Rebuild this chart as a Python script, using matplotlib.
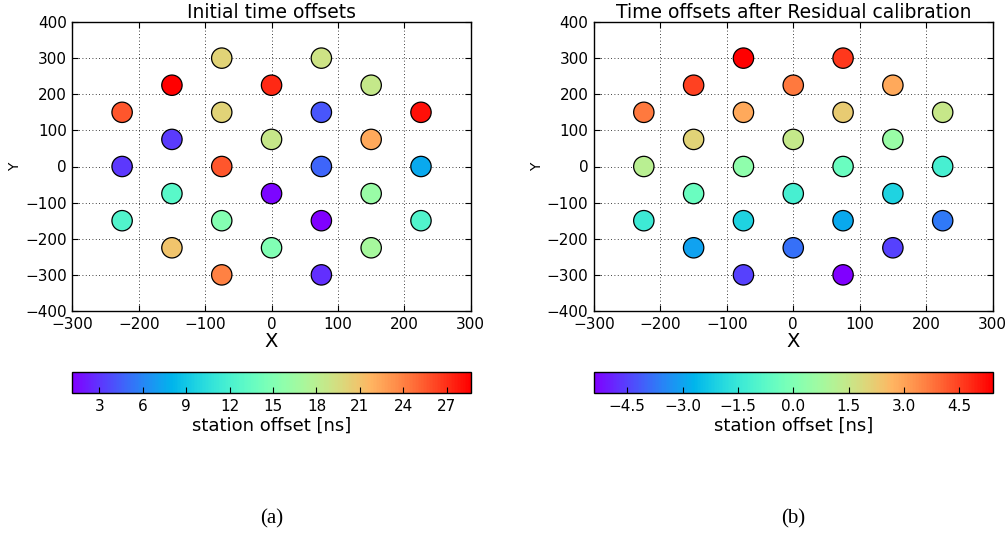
import numpy as np
import matplotlib
matplotlib.use("Agg")
import matplotlib.pyplot as plt

# Station layout (m)
station_x = [-75, 75,
             -150, 0, 150,
             -225, -75, 75, 225,
             -150, 0, 150,
             -225, -75, 75, 225,
             -150, 0, 150,
             -225, -75, 75, 225,
             -150, 0, 150,
             -75, 75]
station_y = [300, 300,
             225, 225, 225,
             150, 150, 150, 150,
             75, 75, 75,
             0, 0, 0, 0,
             -75, -75, -75,
             -150, -150, -150, -150,
             -225, -225, -225,
             -300, -300]

# Offsets per station (ns)
initial_offsets = [20.1, 19.0,
                   28.66, 27.2, 18.6,
                   25.6, 20.1, 4.2, 28.1,
                   3.25, 18.7, 22.3,
                   3.1, 25.6, 4.7, 7.5,
                   12.8, 1.4, 16.2,
                   12.4, 15.2, 1.13, 12.4,
                   21.0, 15.0, 17.0,
                   24.0, 2.8]
residual_offsets = [5.4, 4.6,
                    4.5, 3.7, 2.9,
                    3.7, 2.9, 2.2, 1.5,
                    2.05, 1.46, 0.54,
                    1.2, 0.32, -0.43, -1.2,
                    -0.43, -1.2, -2.05,
                    -1.4, -2.05, -2.9, -3.7,
                    -3.0, -3.8, -4.5,
                    -4.5, -5.4]

titles = ["Initial time offsets", "Time offsets after Residual calibration"]
cbar_ticks = [[3, 6, 9, 12, 15, 18, 21, 24, 27],
              [-4.5, -3.0, -1.5, 0.0, 1.5, 3.0, 4.5]]
captions = ["(a)", "(b)"]

fig = plt.figure(figsize=(10.08, 5.38), dpi=100)
fig.patch.set_facecolor("white")

W, H = 1008.0, 538.0
ax_lefts = [72.3, 594.0]
ax_width = 398.5
ax_top, ax_bottom = 22.0, 311.0
cb_top, cb_bottom = 372.3, 393.3

for i, offsets in enumerate([initial_offsets, residual_offsets]):
    ax = fig.add_axes([ax_lefts[i] / W, 1 - ax_bottom / H,
                       ax_width / W, (ax_bottom - ax_top) / H])
    sc = ax.scatter(station_x, station_y, c=offsets, cmap="rainbow",
                    s=215, edgecolors="black", linewidths=0.9, zorder=3)
    ax.set_xlim(-300, 300)
    ax.set_ylim(-400, 400)
    ax.set_xticks(np.arange(-300, 301, 100))
    ax.set_yticks(np.arange(-400, 401, 100))
    ax.grid(True, linestyle=(0, (1, 3)), color="black", linewidth=0.6, zorder=0)
    ax.set_axisbelow(True)
    ax.tick_params(direction="in", top=True, right=True, length=4,
                   labelsize=11, pad=4)
    ax.set_title(titles[i], fontsize=13.5, pad=3)
    ax.set_xlabel("X", fontsize=14, labelpad=0)
    ax.set_ylabel("Y", fontsize=10, labelpad=2)
    for sp in ax.spines.values():
        sp.set_linewidth(1.0)

    cax = fig.add_axes([ax_lefts[i] / W, 1 - cb_bottom / H,
                        ax_width / W, (cb_bottom - cb_top) / H])
    cb = fig.colorbar(sc, cax=cax, orientation="horizontal",
                      ticks=cbar_ticks[i])
    if i == 1:
        cb.ax.set_xticklabels([f"{t:.1f}".replace("-", "\u2212") for t in cbar_ticks[i]])
    cb.ax.tick_params(direction="in", length=4, labelsize=11, pad=4)
    cb.set_label("station offset [ns]", fontsize=13, labelpad=2)
    cb.outline.set_linewidth(1.0)

    fig.text((ax_lefts[i] + ax_width / 2) / W, 1 - 519 / H, captions[i],
             ha="center", va="center", fontsize=15,
             family="Liberation Serif")

fig.savefig("out.png", dpi=100, facecolor="white")
